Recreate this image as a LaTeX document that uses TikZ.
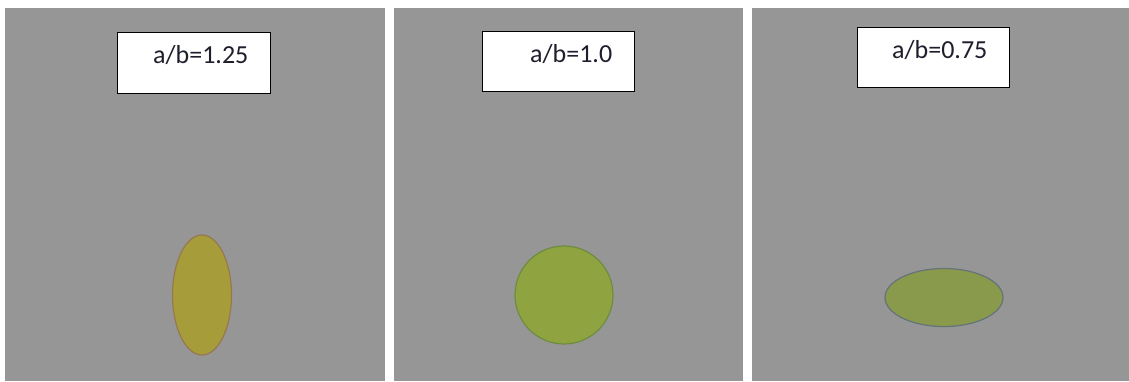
\documentclass[tikz,border=0pt]{standalone}
\usepackage{fontspec}
\setmainfont{Carlito}
\usetikzlibrary{positioning,shapes.geometric}
\definecolor{panelgray}{RGB}{150,150,150}
\definecolor{tagtext}{RGB}{30,30,45}
\definecolor{fillA}{RGB}{166,156,58}
\definecolor{edgeA}{RGB}{150,120,80}
\definecolor{fillB}{RGB}{143,164,64}
\definecolor{edgeB}{RGB}{110,140,65}
\definecolor{fillC}{RGB}{138,154,76}
\definecolor{edgeC}{RGB}{100,115,120}

\begin{document}
\begin{tikzpicture}[x=1pt, y=-1pt,
    panel/.style={rectangle, fill=panelgray, inner sep=0pt, minimum height=373pt, anchor=north west},
    tag/.style={rectangle, draw=black, line width=1.2pt, fill=white, minimum width=152pt, minimum height=60pt, inner sep=0pt, anchor=north west},
    ratio/.style={font=\fontsize{26}{29}\selectfont, text=tagtext, anchor=base west, inner sep=0pt},
    grain/.style={ellipse, line width=1.2pt, inner sep=0pt}]
    \useasboundingbox (0,0) rectangle (1129,381);
    \fill[white] (0,0) rectangle (1129,381);

    % three panels
    \node[panel, minimum width=380pt] (panA) at (5,8) {};
    \node[panel, minimum width=349pt] (panB) at (394,8) {};
    \node[panel, minimum width=377pt] (panC) at (752,8) {};

    % ratio tags
    \node[tag, minimum width=153pt, minimum height=61pt] (tagA) at (117,32) {};
    \node[tag] (tagB) at (482,31) {};
    \node[tag] (tagC) at (857,27) {};
    \node[ratio] (txtA) at (153,63) {a/b=1.25};
    \node[ratio] (txtB) at (530,62.7) {a/b=1.0};
    \node[ratio] (txtC) at (892,58.3) {a/b=0.75};

    % particles
    \node[grain, fill=fillA, draw=edgeA, minimum width=59pt, minimum height=120pt] (grainA) at (202,295) {};
    \node[grain, fill=fillB, draw=edgeB, minimum width=98pt, minimum height=98pt] (grainB) at (564,295) {};
    \node[grain, fill=fillC, draw=edgeC, minimum width=118pt, minimum height=58pt] (grainC) at (944,297.5) {};
\end{tikzpicture}
\end{document}
